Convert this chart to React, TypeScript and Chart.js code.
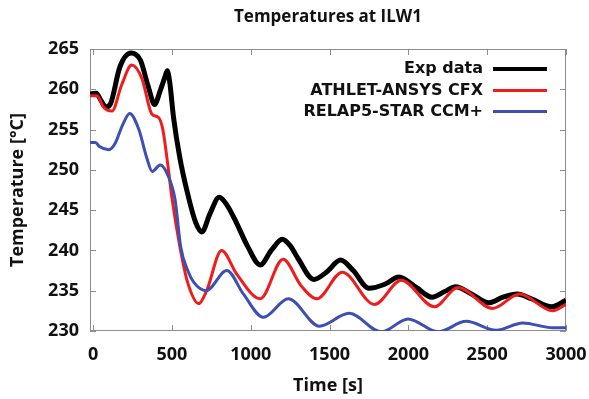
import React, { useEffect, useRef } from "react";
import { Chart, registerables } from "chart.js";

Chart.register(...registerables);

const TITLE = "Temperatures at ILW1";
const X_LABEL = "Time [s]";
const Y_LABEL = "Temperature [°C]";

const X_MIN = -20;
const X_MAX = 3000;
const Y_MIN = 230;
const Y_MAX = 265;
const X_TICKS = [0, 500, 1000, 1500, 2000, 2500, 3000];
const Y_TICKS = [230, 235, 240, 245, 250, 255, 260, 265];

const SERIES_NAMES = ["Exp data", "ATHLET-ANSYS CFX", "RELAP5-STAR CCM+"];

const expTimes = [-20, 20, 50, 80, 110, 170, 240, 300, 350, 390, 425, 455, 470, 485, 510, 550, 600, 650, 690, 740, 800, 850, 910, 980, 1060, 1130, 1200, 1250, 1300, 1400, 1480, 1570, 1650, 1750, 1850, 1940, 2050, 2150, 2230, 2300, 2400, 2510, 2600, 2690, 2780, 2910, 3000];
const expTemps = [259.4, 259.5, 258.6, 257.8, 258.2, 262.8, 264.5, 263.6, 260.3, 258.1, 259.8, 261.5, 262.3, 261.0, 256.5, 251.5, 247.0, 243.5, 242.3, 244.5, 246.6, 245.6, 243.4, 240.5, 238.2, 240.0, 241.4, 240.6, 239.0, 236.4, 237.3, 238.8, 237.5, 235.3, 235.8, 236.7, 235.4, 234.2, 234.9, 235.5, 234.6, 233.5, 234.2, 234.6, 234.0, 233.0, 233.8];

const athletTimes = [-20, 25, 65, 120, 180, 245, 310, 373, 415, 442, 472, 500, 550, 600, 670, 720, 815, 910, 1060, 1205, 1320, 1420, 1580, 1785, 1955, 2165, 2315, 2535, 2705, 2915, 3000];
const athletTemps = [259.2, 259.2, 257.8, 257.3, 260.5, 263.0, 261.3, 256.9, 256.5, 255.0, 250.9, 246.5, 240.5, 236.0, 233.4, 235.0, 240.0, 237.1, 234.0, 238.9, 235.6, 234.0, 237.3, 233.3, 236.3, 233.0, 235.4, 232.8, 234.6, 232.5, 233.3];

const relapTimes = [-20, 15, 40, 100, 140, 185, 232, 290, 340, 375, 425, 470, 520, 555, 600, 640, 717, 848, 953, 1080, 1238, 1435, 1624, 1829, 1998, 2188, 2367, 2557, 2725, 2916, 3000];
const relapTemps = [253.4, 253.4, 252.9, 252.5, 253.3, 255.5, 257.0, 255.0, 251.5, 249.8, 250.6, 249.5, 246.3, 240.5, 237.5, 236.0, 235.0, 237.5, 234.6, 231.7, 234.0, 230.6, 232.2, 229.9, 231.5, 229.9, 231.2, 230.1, 231.0, 230.4, 230.4];

const COLORS = ["#000000", "#f01c1c", "#3d4fb4"];
const WIDTHS = [5, 3, 3];

const toPoints = (xs: number[], ys: number[]) => xs.map((x, i) => ({ x, y: ys[i] }));

const decorPlugin = {
  id: "decor",
  beforeDatasetsDraw(chart: any) {
    const { ctx, chartArea: a, scales } = chart;
    ctx.save();
    ctx.strokeStyle = "#8c8c8c";
    ctx.lineWidth = 1;
    ctx.strokeRect(a.left + 0.5, a.top + 0.5, a.right - a.left - 1, a.bottom - a.top - 1);
    const L = 6;
    ctx.beginPath();
    for (const v of X_TICKS) {
      const px = Math.round(scales.x.getPixelForValue(v)) + 0.5;
      ctx.moveTo(px, a.bottom);
      ctx.lineTo(px, a.bottom - L);
      ctx.moveTo(px, a.top);
      ctx.lineTo(px, a.top + L);
    }
    for (const v of Y_TICKS) {
      const py = Math.round(scales.y.getPixelForValue(v)) + 0.5;
      ctx.moveTo(a.left, py);
      ctx.lineTo(a.left + L, py);
      ctx.moveTo(a.right, py);
      ctx.lineTo(a.right - L, py);
    }
    ctx.stroke();
    ctx.restore();
  },
  afterDraw(chart: any) {
    const { ctx, chartArea: a } = chart;
    ctx.save();
    ctx.fillStyle = "#111";
    ctx.font = "bold 17px 'Open Sans'";
    ctx.textAlign = "center";
    ctx.textBaseline = "middle";
    ctx.fillText(TITLE, (a.left + a.right) / 2, 17);

    ctx.font = "bold 16px 'DejaVu Sans'";
    ctx.textAlign = "right";
    const rowY = [69, 90.5, 111.5];
    SERIES_NAMES.forEach((name, i) => {
      ctx.fillStyle = "#111";
      ctx.fillText(name, 483, rowY[i]);
      ctx.strokeStyle = COLORS[i];
      ctx.lineWidth = i === 0 ? 4 : 3;
      ctx.beginPath();
      ctx.moveTo(493, rowY[i]);
      ctx.lineTo(547, rowY[i]);
      ctx.stroke();
    });
    ctx.restore();
  },
};

export default function App() {
  const ref = useRef<HTMLCanvasElement>(null);
  useEffect(() => {
    if (!ref.current) return;
    const series = [
      toPoints(expTimes, expTemps),
      toPoints(athletTimes, athletTemps),
      toPoints(relapTimes, relapTemps),
    ];
    const tickFont = { family: "'Open Sans'", weight: "bold" as const, size: 18 };
    const titleFont = { family: "'Open Sans'", weight: "bold" as const, size: 18 };
    const chart = new Chart(ref.current, {
      type: "line",
      data: {
        datasets: [2, 1, 0].map((i) => ({
          label: SERIES_NAMES[i],
          data: series[i],
          borderColor: COLORS[i],
          backgroundColor: COLORS[i],
          borderWidth: WIDTHS[i],
          pointRadius: 0,
          cubicInterpolationMode: "monotone" as const,
          fill: false,
        })),
      },
      options: {
        animation: false,
        responsive: false,
        devicePixelRatio: 1,
        layout: { padding: { top: 49, right: 23, left: 0, bottom: 0 } },
        plugins: { legend: { display: false }, title: { display: false }, tooltip: { enabled: false } },
        scales: {
          x: {
            type: "linear",
            min: X_MIN,
            max: X_MAX,
            grid: { display: false, drawTicks: false },
            border: { display: false },
            afterBuildTicks: (s: any) => {
              s.ticks = X_TICKS.map((v) => ({ value: v }));
            },
            afterFit: (s: any) => {
              s.height = 68;
              s.paddingLeft = 0;
              s.paddingRight = 0;
            },
            ticks: {
              font: tickFont,
              color: "#111",
              padding: 13,
              maxRotation: 0,
              autoSkip: false,
              callback: (v: any) => String(v),
            },
            title: {
              display: true,
              text: X_LABEL,
              font: titleFont,
              color: "#111",
              padding: { top: 0, bottom: 2 },
            },
          },
          y: {
            type: "linear",
            min: Y_MIN,
            max: Y_MAX,
            grid: { display: false, drawTicks: false },
            border: { display: false },
            afterBuildTicks: (s: any) => {
              s.ticks = Y_TICKS.map((v) => ({ value: v }));
            },
            afterFit: (s: any) => {
              s.width = 90;
              s.paddingTop = 0;
              s.paddingBottom = 0;
            },
            ticks: { font: tickFont, color: "#111", padding: 11, callback: (v: any) => String(v) },
            title: {
              display: true,
              text: Y_LABEL,
              font: titleFont,
              color: "#111",
              padding: { top: 7, bottom: 0 },
            },
          },
        },
      },
      plugins: [decorPlugin],
    });
    return () => chart.destroy();
  }, []);
  return (
    <div style={{ position: "absolute", left: 0, top: 0, width: 589, height: 399, background: "#fff" }}>
      <canvas ref={ref} width={589} height={399} />
    </div>
  );
}
